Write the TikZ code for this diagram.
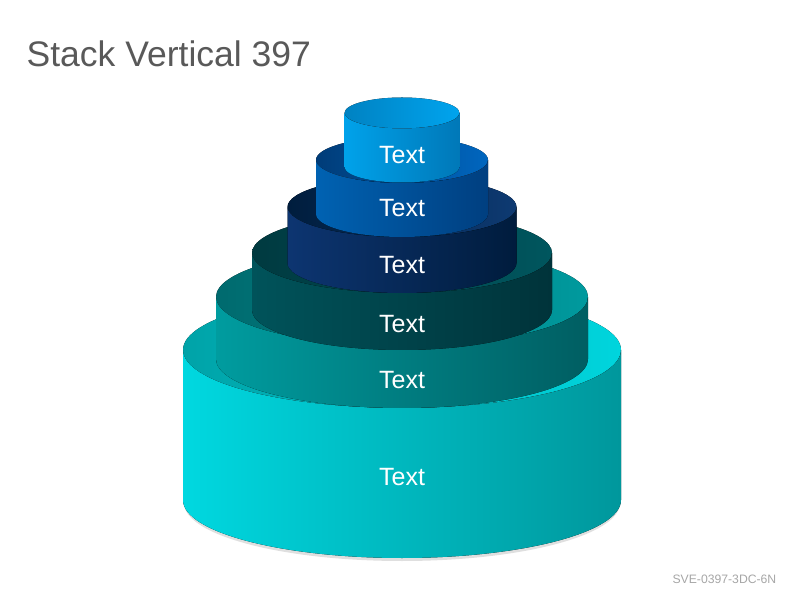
\documentclass[tikz,border=0pt]{standalone}
\usepackage{fontspec}
\setmainfont{Liberation Sans}
\usepackage{tikz}
\definecolor{titlegray}{HTML}{595959}
\definecolor{codegray}{HTML}{A6A6A6}
\definecolor{c1l}{HTML}{00D8E0}\definecolor{c1r}{HTML}{00979C}
\definecolor{c1il}{HTML}{00A3A8}\definecolor{c1ir}{HTML}{00D5DD}
\definecolor{c2l}{HTML}{009C9F}\definecolor{c2r}{HTML}{005E62}
\definecolor{c2il}{HTML}{006A6E}\definecolor{c2ir}{HTML}{009A9E}
\definecolor{c3l}{HTML}{00535A}\definecolor{c3r}{HTML}{00333A}
\definecolor{c3il}{HTML}{003A40}\definecolor{c3ir}{HTML}{00565E}
\definecolor{c4l}{HTML}{0D3571}\definecolor{c4r}{HTML}{001C3D}
\definecolor{c4il}{HTML}{001D3D}\definecolor{c4ir}{HTML}{0E3A72}
\definecolor{c5l}{HTML}{0062B2}\definecolor{c5r}{HTML}{003F80}
\definecolor{c5il}{HTML}{003C78}\definecolor{c5ir}{HTML}{0066BF}
\definecolor{c6l}{HTML}{00A2EA}\definecolor{c6r}{HTML}{0078B8}
\definecolor{c6il}{HTML}{0082C2}\definecolor{c6ir}{HTML}{00A4EE}

\begin{document}
\begin{tikzpicture}[x=1pt,y=1pt,
        lbl/.style={text=white,font=\fontsize{25}{25}\selectfont}]
                \useasboundingbox (0,0) rectangle (800,600);
                \node [anchor=base west,inner sep=0,text=titlegray,font=\fontsize{35.5}{36}\selectfont] (title) at (26.5,533.5) {Stack Vertical 397};
                \node [anchor=base east,inner sep=0,text=codegray,font=\fontsize{12.2}{13}\selectfont] (code) at (776.5,17) {SVE-0397-3DC-6N};
                % bottom ring
                \fill [black!25,opacity=.5] (402,97) ellipse [x radius=218,y radius=58];
                \fill [left color=c1il,right color=c1ir] (402,250) ellipse [x radius=219,y radius=58];
                \fill [left color=c1l,right color=c1r] (183,250) -- (183,100) arc [start angle=180,end angle=360,x radius=219,y radius=58] -- (621,250) arc [start angle=0,end angle=-180,x radius=219,y radius=58] -- cycle;
                % second ring
                \fill [left color=c2il,right color=c2ir] (402,303) ellipse [x radius=186,y radius=49];
                \fill [left color=c2l,right color=c2r] (216,303) -- (216,241) arc [start angle=180,end angle=360,x radius=186,y radius=49] -- (588,303) arc [start angle=0,end angle=-180,x radius=186,y radius=49] -- cycle;
                % third ring
                \fill [left color=c3il,right color=c3ir] (402,347) ellipse [x radius=150,y radius=40];
                \fill [left color=c3l,right color=c3r] (252,347) -- (252,290) arc [start angle=180,end angle=360,x radius=150,y radius=40] -- (552,347) arc [start angle=0,end angle=-180,x radius=150,y radius=40] -- cycle;
                % fourth ring
                \fill [left color=c4il,right color=c4ir] (402,393) ellipse [x radius=114.5,y radius=30];
                \fill [left color=c4l,right color=c4r] (287.5,393) -- (287.5,337) arc [start angle=180,end angle=360,x radius=114.5,y radius=30] -- (516.5,393) arc [start angle=0,end angle=-180,x radius=114.5,y radius=30] -- cycle;
                % fifth ring
                \fill [left color=c5il,right color=c5ir] (402,440) ellipse [x radius=86,y radius=23];
                \fill [left color=c5l,right color=c5r] (316,440) -- (316,386) arc [start angle=180,end angle=360,x radius=86,y radius=23] -- (488,440) arc [start angle=0,end angle=-180,x radius=86,y radius=23] -- cycle;
                % top ring
                \fill [left color=c6il,right color=c6ir] (402,487) ellipse [x radius=57.5,y radius=15.5];
                \fill [left color=c6l,right color=c6r] (344.5,487) -- (344.5,433) arc [start angle=180,end angle=360,x radius=57.5,y radius=15.5] -- (459.5,487) arc [start angle=0,end angle=-180,x radius=57.5,y radius=15.5] -- cycle;
                \node [lbl] (t6) at (402,445) {Text};
                \node [lbl] (t5) at (402,392) {Text};
                \node [lbl] (t4) at (402,335) {Text};
                \node [lbl] (t3) at (402,276) {Text};
                \node [lbl] (t2) at (402,220) {Text};
                \node [lbl] (t1) at (402,123) {Text};
            \end{tikzpicture}
\end{document}
